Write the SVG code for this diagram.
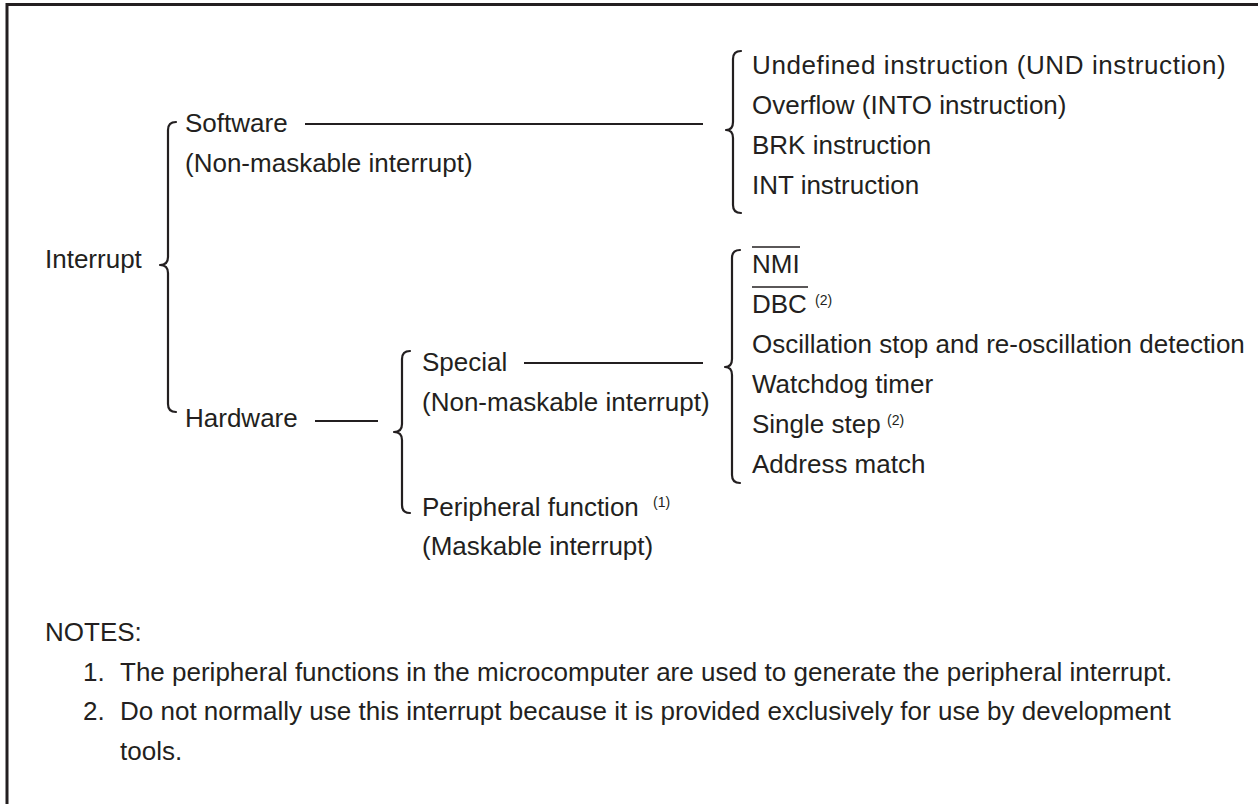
<svg xmlns="http://www.w3.org/2000/svg" width="1258" height="804" viewBox="0 0 1258 804">
<style>
text{font-family:"Liberation Sans",Arial,sans-serif;font-size:26px;fill:#231f20}
.sup{font-size:14px}
.ln{stroke:#231f20;stroke-width:2.2;fill:none}
.ol{stroke:#231f20;stroke-width:1.5;fill:none}
.br{stroke:#231f20;stroke-width:2.2;fill:none;stroke-linecap:round;stroke-linejoin:round}
.frame{stroke:#231f20;stroke-width:3;fill:none}
</style>
<rect width="1258" height="804" fill="#fff"/>
<path class="frame" d="M7 804 V4.5 H1258"/>
<g id="connectors">
<path class="br" d="M176 122 Q168 122 168 130 V257 Q168 265 160 265 Q168 265 168 273 V404 Q168 412 176 412"/>
<path class="br" d="M741 51 Q733 51 733 59 V122 Q733 130 726 130 Q733 130 733 138 V205 Q733 213 741 213"/>
<path class="br" d="M410 351 Q402 351 402 359 V424 Q402 432 394 432 Q402 432 402 440 V505 Q402 513 410 513"/>
<path class="br" d="M740 250 Q732 250 732 258 V359 Q732 367 725 367 Q732 367 732 375 V475 Q732 483 740 483"/>
<line class="ln" x1="305" y1="124" x2="703" y2="124"/>
<line class="ln" x1="315" y1="421" x2="378" y2="421"/>
<line class="ln" x1="524" y1="363" x2="703" y2="363"/>
</g>
<g id="interrupt"><text x="45" y="268">Interrupt</text></g>
<g id="software"><text x="185" y="132">Software</text><text x="185" y="172">(Non-maskable interrupt)</text></g>
<g id="hardware"><text x="185" y="427">Hardware</text></g>
<g id="special"><text x="422" y="371">Special</text><text x="422" y="411">(Non-maskable interrupt)</text></g>
<g id="peripheral"><text x="422" y="516">Peripheral function</text><text class="sup" x="653" y="507">(1)</text><text x="422" y="555">(Maskable interrupt)</text></g>
<g id="software-list">
<text x="752" y="74" style="letter-spacing:0.6px">Undefined instruction (UND instruction)</text>
<text x="752" y="114">Overflow (INTO instruction)</text>
<text x="752" y="154">BRK instruction</text>
<text x="752" y="194">INT instruction</text>
</g>
<g id="special-list">
<text x="752" y="273">NMI</text><line class="ol" x1="752" y1="247" x2="800" y2="247"/>
<text x="752" y="313">DBC</text><line class="ol" x1="752" y1="287" x2="808" y2="287"/><text class="sup" x="815" y="305">(2)</text>
<text x="752" y="353">Oscillation stop and re-oscillation detection</text>
<text x="752" y="393">Watchdog timer</text>
<text x="752" y="433">Single step</text><text class="sup" x="887" y="425">(2)</text>
<text x="752" y="473">Address match</text>
</g>
<g id="notes">
<text x="45" y="641">NOTES:</text>
<text x="83" y="681">1.</text><text x="120" y="681">The peripheral functions in the microcomputer are used to generate the peripheral interrupt.</text>
<text x="83" y="720">2.</text><text x="120" y="720">Do not normally use this interrupt because it is provided exclusively for use by development</text>
<text x="120" y="760">tools.</text>
</g>
</svg>
